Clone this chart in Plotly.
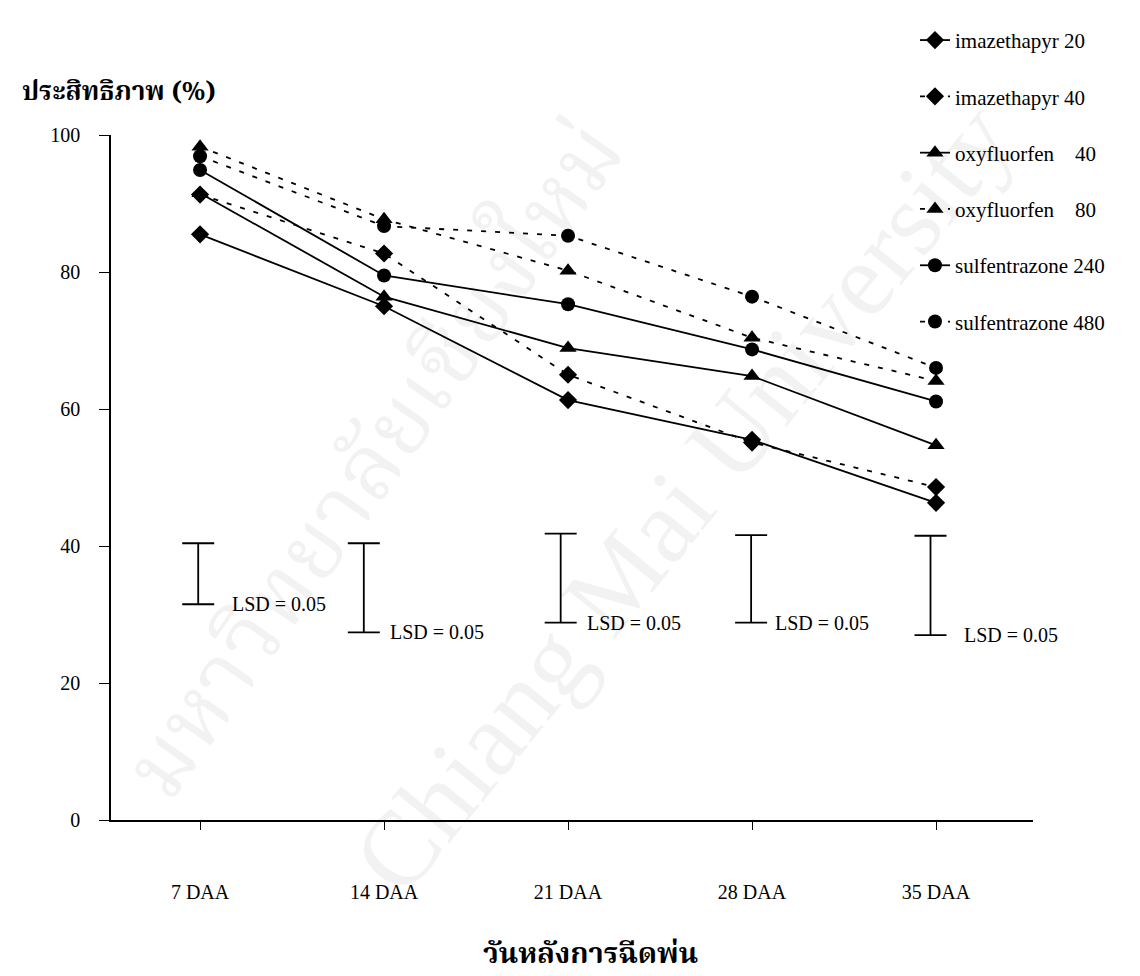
import plotly.graph_objects as go

# ---------------- data ----------------
days = ["7 DAA", "14 DAA", "21 DAA", "28 DAA", "35 DAA"]

imazethapyr_20 = [85.5, 75.0, 61.3, 55.5, 46.3]
imazethapyr_40 = [91.3, 82.7, 65.0, 55.1, 48.6]
oxyfluorfen_40 = [91.5, 76.4, 68.9, 64.8, 54.7]
oxyfluorfen_80 = [98.3, 87.7, 80.2, 70.4, 64.1]
sulfentrazone_240 = [94.9, 79.5, 75.3, 68.7, 61.1]
sulfentrazone_480 = [96.9, 86.7, 85.3, 76.4, 66.0]

series_names = [
    "imazethapyr 20",
    "imazethapyr 40",
    "oxyfluorfen\u00a0\u00a0\u00a0 40",
    "oxyfluorfen\u00a0\u00a0\u00a0 80",
    "sulfentrazone 240",
    "sulfentrazone 480",
]
series_values = [imazethapyr_20, imazethapyr_40, oxyfluorfen_40,
                 oxyfluorfen_80, sulfentrazone_240, sulfentrazone_480]

# LSD bars (top and bottom of each bar)
lsd_top = [40.4, 40.4, 41.8, 41.6, 41.5]
lsd_bottom = [31.5, 27.4, 28.8, 28.8, 27.0]
lsd_label = "LSD = 0.05"

y_ticks = [0, 20, 40, 60, 80, 100]

# ---------------- styles ----------------
series_symbols = ["diamond", "diamond", "triangle-up", "triangle-up", "circle", "circle"]
series_dash = ["solid", "5px,9px", "solid", "5px,9px", "solid", "5px,9px"]
series_msize = [14, 14, 15, 15, 14, 14]
lsd_xoffset = [-0.01, -0.11, -0.04, -0.005, -0.03]
lsd_label_shift = [32, 24, 24, 22, 31]

serif = "Liberation Serif, Times New Roman, serif"
thai = "Noto Serif Thai, Noto Sans Thai, Loma, Garuda, Norasi, Tlwg Typo, Liberation Serif, serif"

x_pos = list(range(len(days)))

fig = go.Figure()

# watermark (faint, behind everything)
fig.add_annotation(xref="paper", yref="paper", x=0.29, y=0.52,
                   xanchor="center", yanchor="middle",
                   text="มหาวิทยาลัยเชียงใหม่", showarrow=False, textangle=-55,
                   font=dict(family=thai, size=90, color="rgba(0,0,0,0.05)"))
fig.add_annotation(xref="paper", yref="paper", x=0.62, y=0.47,
                   xanchor="center", yanchor="middle",
                   text="Chiang Mai University", showarrow=False, textangle=-51,
                   font=dict(family=serif, size=106, color="rgba(0,0,0,0.05)"))

for i, (name, vals) in enumerate(zip(series_names, series_values)):
    fig.add_trace(go.Scatter(
        x=x_pos, y=vals, name=name, mode="lines+markers",
        line=dict(color="black", width=1.8, dash=series_dash[i]),
        marker=dict(symbol=series_symbols[i], size=series_msize[i], color="black"),
        legendgroup=f"g{i}", cliponaxis=False,
    ))

# LSD bars as error bars
lsd_x = [x + o for x, o in zip(x_pos, lsd_xoffset)]
lsd_mid = [(t + b) / 2 for t, b in zip(lsd_top, lsd_bottom)]
lsd_half = [(t - b) / 2 for t, b in zip(lsd_top, lsd_bottom)]
fig.add_trace(go.Scatter(
    x=lsd_x, y=lsd_mid, mode="markers", showlegend=False,
    marker=dict(size=1, color="rgba(0,0,0,0)"),
    error_y=dict(type="data", array=lsd_half, symmetric=True,
                 color="black", thickness=1.8, width=16),
    hoverinfo="skip",
))

for xx, yb, sh in zip(lsd_x, lsd_bottom, lsd_label_shift):
    fig.add_annotation(x=xx, y=yb, text=lsd_label, showarrow=False,
                       xanchor="left", yanchor="middle", xshift=sh,
                       font=dict(family=serif, size=20, color="black"))

# axis titles
fig.add_annotation(xref="paper", yref="paper", x=-0.099, y=1.062,
                   xanchor="left", yanchor="middle",
                   text="<b>ประสิทธิภาพ (%)</b>", showarrow=False,
                   font=dict(family=thai, size=26, color="black"))
fig.add_annotation(xref="paper", yref="paper", x=0.52, y=-0.197,
                   xanchor="center", yanchor="middle",
                   text="<b>วันหลังการฉีดพ่น</b>", showarrow=False,
                   font=dict(family=thai, size=29, color="black"))

fig.update_xaxes(
    range=[-0.484, 4.527], tickvals=x_pos, ticktext=days,
    showline=True, linecolor="black", linewidth=1.6,
    ticks="outside", ticklen=8, tickwidth=1.2, tickcolor="black",
    ticklabelstandoff=45, showgrid=False, zeroline=False,
    tickfont=dict(family=serif, size=20, color="black"),
)
fig.update_yaxes(
    range=[0, 100], tickvals=y_ticks,
    showline=True, linecolor="black", linewidth=1.6,
    ticks="outside", ticklen=10, tickwidth=1.2, tickcolor="black",
    ticklabelstandoff=15, showgrid=False, zeroline=False,
    tickfont=dict(family=serif, size=20, color="black"),
)

fig.update_layout(
    width=1140, height=976,
    margin=dict(l=103, r=115, t=120, b=164),
    paper_bgcolor="white", plot_bgcolor="white",
    legend=dict(x=0.872, y=1.168, xanchor="left", yanchor="top",
                font=dict(family=serif, size=21, color="black"),
                tracegroupgap=26, bgcolor="rgba(0,0,0,0)"),
    showlegend=True,
)

fig.write_html("out.html")
